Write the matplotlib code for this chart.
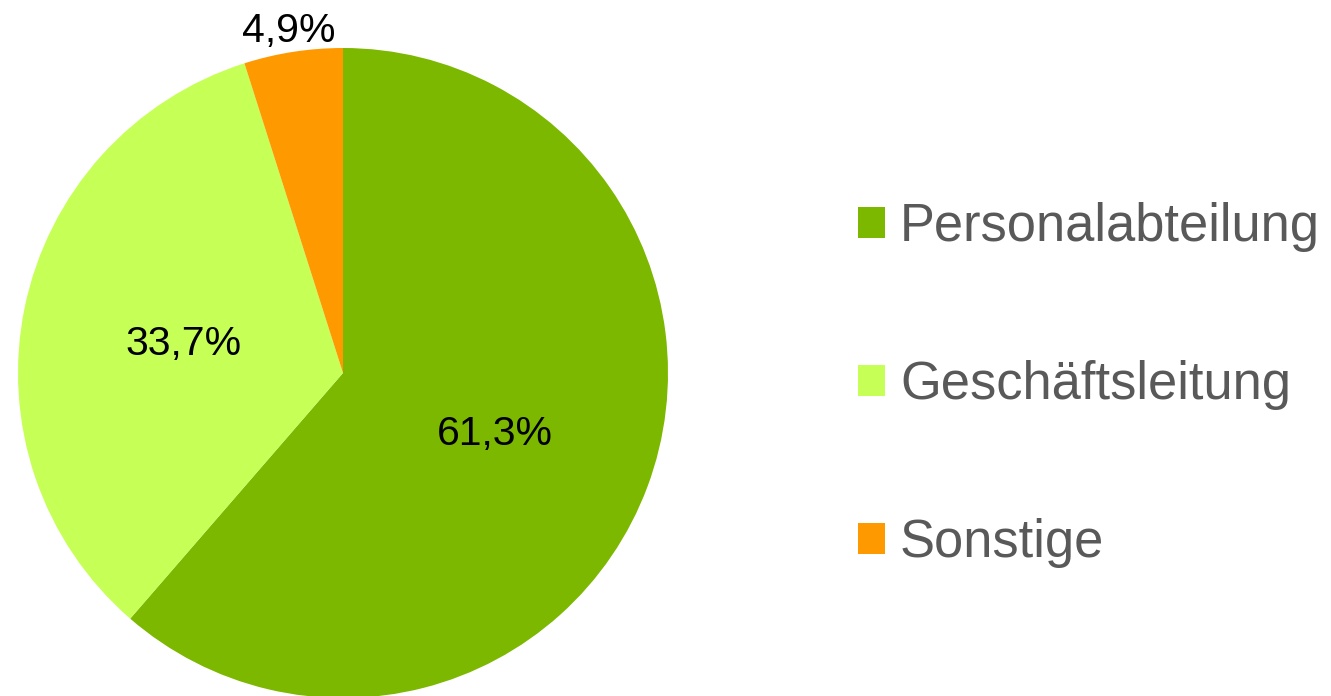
import matplotlib
matplotlib.use("Agg")
import matplotlib.pyplot as plt
from matplotlib.patches import Patch
import numpy as np

categories = ["Personalabteilung", "Geschäftsleitung", "Sonstige"]
values = [61.3, 33.7, 4.9]
colors = ["#7CB800", "#C6FF55", "#FF9900"]

plt.rcParams['font.family'] = ['Liberation Sans', 'DejaVu Sans']

W, H = 1331, 696
fig = plt.figure(figsize=(W / 100, H / 100), dpi=100)
cx, cy, r = 343, 373, 325
ax = fig.add_axes([(cx - r) / W, (H - cy - r) / H, 2 * r / W, 2 * r / H])

wedges, texts = ax.pie(values, colors=colors, startangle=90, counterclock=False,
                       radius=1.0, wedgeprops=dict(linewidth=0))
ax.set_xlim(-1, 1)
ax.set_ylim(-1, 1)
ax.set_aspect('equal')
ax.axis('off')

for w, v in zip(wedges, values):
    mid = np.deg2rad((w.theta1 + w.theta2) / 2)
    d = 0.5 if v > 10 else 1.078
    ax.text(d * np.cos(mid), d * np.sin(mid), f"{v:.1f}".replace('.', ',') + "%",
            ha='center', va='center_baseline', fontsize=29.5, color='black',
            clip_on=False)

handles = [Patch(facecolor=c, edgecolor='none') for c in colors]
fig.legend(handles, categories, loc='center left',
           bbox_to_anchor=(858 / W, (H - 385) / H), frameon=False,
           fontsize=37.8, labelcolor='#595959', handlelength=0.52,
           handleheight=0.52, handletextpad=0.28, labelspacing=2.06,
           borderpad=0, borderaxespad=0)

fig.savefig("out.png", dpi=100)
